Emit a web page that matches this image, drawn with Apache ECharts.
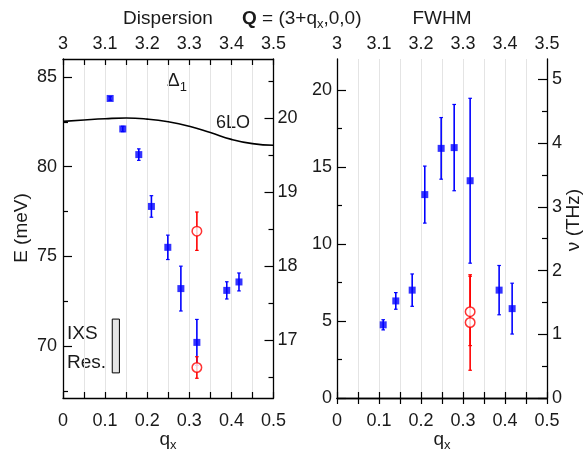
<!DOCTYPE html>
<html><head><meta charset="utf-8">
<script src="https://cdn.jsdelivr.net/npm/echarts@6/dist/echarts.min.js"></script>
<style>html,body{margin:0;padding:0;background:#fff}#c{width:585px;height:451px}</style>
</head><body><div id="c"></div><script>
// ---- data ----
const MEV_PER_THZ = 4.1357;
const qLabels = [0, 0.1, 0.2, 0.3, 0.4, 0.5];
const hLabels = [3, 3.1, 3.2, 3.3, 3.4, 3.5];
const eLabels = [70, 75, 80, 85];
const eMinor = [67.5, 72.5, 77.5, 82.5];
const thzLabelsL = [17, 18, 19, 20];
const thzMinorL = [16.5, 17.5, 18.5, 19.5, 20.5];
const wLabels = [0, 5, 10, 15, 20];
const wMinor = [2.5, 7.5, 12.5, 17.5];
const thzLabelsR = [0, 1, 2, 3, 4, 5];
const thzMinorR = [0.5, 1.5, 2.5, 3.5, 4.5];

const dispQ   = [0.112, 0.142, 0.180, 0.210, 0.249, 0.280, 0.318, 0.389, 0.418];
const dispE   = [83.8, 82.1, 80.67, 77.78, 75.5, 73.2, 70.2, 73.1, 73.57];
const dispErr = [0.1, 0.15, 0.32, 0.6, 0.68, 1.25, 1.28, 0.48, 0.5];
const dispRedQ   = [0.318, 0.318];
const dispRedE   = [76.4, 68.8];
const dispRedErr = [1.07, 0.6];

const loQ = [0, 0.05, 0.1, 0.15, 0.2, 0.25, 0.3, 0.35, 0.4, 0.45, 0.5];
const loE = [82.52, 82.60, 82.67, 82.71, 82.65, 82.50, 82.25, 81.90, 81.52, 81.28, 81.19];

const resQ = [0.117, 0.134];
const resE = [68.5, 71.5];

const fwhmQ   = [0.110, 0.140, 0.179, 0.209, 0.248, 0.279, 0.317, 0.386, 0.417];
const fwhmW   = [4.75, 6.3, 7.0, 13.2, 16.2, 16.25, 14.1, 7.0, 5.8];
const fwhmErr = [0.33, 0.54, 1.05, 1.85, 2.0, 2.8, 5.35, 1.6, 1.65];
const fwhmRedQ  = [0.317, 0.317];
const fwhmRedW  = [5.6, 4.9];
const fwhmRedLo = [3.4, 1.8];
const fwhmRedHi = [8.0, 7.9];

const E_MIN = 67.1, E_MAX = 86.0, W_MIN = 0, W_MAX = 22;

// ---- helpers ----
const FONT = '"Liberation Sans", Arial, Helvetica, sans-serif';
const BLUE = '#0000ff', RED = '#ff0000';
const pairs = (a, b) => a.map((v, i) => [v, b[i]]);
const errRows = (q, lo, hi) => q.map((v, i) => [v, lo[i], hi[i]]);

function errRender(color) {
  return function (params, api) {
    const x = api.value(0), lo = api.value(1), hi = api.value(2);
    const a = api.coord([x, hi]), b = api.coord([x, lo]);
    const cw = 1.8;
    const st = { stroke: color, lineWidth: 1.6 };
    return { type: 'group', children: [
      { type: 'line', shape: { x1: a[0], y1: a[1], x2: b[0], y2: b[1] }, style: st },
      { type: 'line', shape: { x1: a[0] - cw, y1: a[1], x2: a[0] + cw, y2: a[1] }, style: { stroke: color, lineWidth: 1.2 } },
      { type: 'line', shape: { x1: b[0] - cw, y1: b[1], x2: b[0] + cw, y2: b[1] }, style: { stroke: color, lineWidth: 1.2 } }
    ]};
  };
}

const axisLine = { show: true, lineStyle: { color: '#000', width: 1.3 } };
const labelStyle = { color: '#1a1a1a', fontFamily: FONT, fontSize: 18 };

function xBottom(grid) {
  return { type: 'value', gridIndex: grid, position: 'bottom', min: 0, max: 0.5, interval: 0.05,
    axisLine, axisTick: { show: true, inside: true, length: 6, lineStyle: { color: '#000', width: 1.2 } },
    axisLabel: Object.assign({ customValues: qLabels, margin: 14 }, labelStyle),
    splitLine: { show: true, lineStyle: { color: '#e4e4e4', width: 1 } } };
}
function xTop(grid) {
  return { type: 'value', gridIndex: grid, position: 'top', min: 3, max: 3.5, interval: 0.05,
    axisLine, axisTick: { show: true, inside: true, length: 6, lineStyle: { color: '#000', width: 1.2 } },
    axisLabel: Object.assign({ customValues: hLabels, margin: 6 }, labelStyle),
    splitLine: { show: false } };
}
function yMajor(grid, pos, min, max, vals, margin) {
  return { type: 'value', gridIndex: grid, position: pos, min, max,
    axisLine, axisTick: { show: true, inside: true, length: 9, customValues: vals, lineStyle: { color: '#000', width: 1.2 } },
    axisLabel: Object.assign({ customValues: vals, margin }, labelStyle),
    splitLine: { show: false } };
}
function yMinor(grid, pos, min, max, vals) {
  return { type: 'value', gridIndex: grid, position: pos, min, max,
    axisLine: { show: false }, axisTick: { show: true, inside: true, length: 5, customValues: vals, lineStyle: { color: '#000', width: 1.2 } },
    axisLabel: { show: false }, splitLine: { show: false } };
}
function xHidden(grid) {
  return { type: 'value', gridIndex: grid, min: 0, max: 0.5, show: false };
}

const gL = { left: 63, top: 59, width: 210.5, height: 339 };
const gR = { left: 337, top: 59, width: 210, height: 339 };

const option = {
  animation: false,
  backgroundColor: '#fff',
  textStyle: { fontFamily: FONT },
  grid: [gL, Object.assign({}, gL), gR, Object.assign({}, gR)],
  xAxis: [xBottom(0), xTop(0), xBottom(2), xTop(2), xHidden(1), xHidden(3)],
  yAxis: [
    yMajor(0, 'left', E_MIN, E_MAX, eLabels, 6),
    yMajor(0, 'right', E_MIN / MEV_PER_THZ, E_MAX / MEV_PER_THZ, thzLabelsL, 4),
    yMinor(1, 'left', E_MIN, E_MAX, eMinor),
    yMinor(1, 'right', E_MIN / MEV_PER_THZ, E_MAX / MEV_PER_THZ, thzMinorL),
    yMajor(2, 'left', W_MIN, W_MAX, wLabels, 5),
    yMajor(2, 'right', W_MIN / MEV_PER_THZ, W_MAX / MEV_PER_THZ, thzLabelsR, 5),
    yMinor(3, 'left', W_MIN, W_MAX, wMinor),
    yMinor(3, 'right', W_MIN / MEV_PER_THZ, W_MAX / MEV_PER_THZ, thzMinorR)
  ],
  series: [
    { type: 'line', xAxisIndex: 0, yAxisIndex: 0, data: pairs(loQ, loE), smooth: true, showSymbol: false,
      lineStyle: { color: '#000', width: 1.6 }, silent: true,
      markArea: { silent: true, itemStyle: { color: '#e6e6e6', borderColor: '#000', borderWidth: 1 },
        data: [[{ coord: [resQ[0], resE[1]] }, { coord: [resQ[1], resE[0]] }]] } },
    { type: 'custom', xAxisIndex: 0, yAxisIndex: 0, renderItem: errRender(BLUE), encode: { x: 0, y: [1, 2] },
      data: errRows(dispQ, dispE.map((v, i) => v - dispErr[i]), dispE.map((v, i) => v + dispErr[i])), z: 3 },
    { type: 'custom', xAxisIndex: 0, yAxisIndex: 0, renderItem: errRender(RED), encode: { x: 0, y: [1, 2] },
      data: errRows(dispRedQ, dispRedE.map((v, i) => v - dispRedErr[i]), dispRedE.map((v, i) => v + dispRedErr[i])), z: 3 },
    { type: 'scatter', xAxisIndex: 0, yAxisIndex: 0, data: pairs(dispQ, dispE), symbol: 'rect', symbolSize: 7,
      itemStyle: { color: BLUE }, z: 4 },
    { type: 'scatter', xAxisIndex: 0, yAxisIndex: 0, data: pairs(dispRedQ, dispRedE), symbol: 'circle', symbolSize: 9.5,
      itemStyle: { color: '#fff', borderColor: RED, borderWidth: 1.5 }, z: 4 },

    { type: 'custom', xAxisIndex: 2, yAxisIndex: 4, renderItem: errRender(BLUE), encode: { x: 0, y: [1, 2] },
      data: errRows(fwhmQ, fwhmW.map((v, i) => v - fwhmErr[i]), fwhmW.map((v, i) => v + fwhmErr[i])), z: 3 },
    { type: 'custom', xAxisIndex: 2, yAxisIndex: 4, renderItem: errRender(RED), encode: { x: 0, y: [1, 2] },
      data: errRows(fwhmRedQ, fwhmRedLo, fwhmRedHi), z: 3 },
    { type: 'scatter', xAxisIndex: 2, yAxisIndex: 4, data: pairs(fwhmQ, fwhmW), symbol: 'rect', symbolSize: 7,
      itemStyle: { color: BLUE }, z: 4 },
    { type: 'scatter', xAxisIndex: 2, yAxisIndex: 4, data: pairs(fwhmRedQ, fwhmRedW), symbol: 'circle', symbolSize: 9.5,
      itemStyle: { color: '#fff', borderColor: RED, borderWidth: 1.5 }, z: 4 }
  ],
  graphic: [
    { type: 'text', x: 168, y: 19, style: { text: 'Dispersion', fill: '#1a1a1a', font: '19px ' + FONT, align: 'center', verticalAlign: 'middle' } },
    { type: 'text', x: 242, y: 19, style: { text: '{b|Q} = (3+q{s|x},0,0)', fill: '#1a1a1a', font: '19px ' + FONT, align: 'left', verticalAlign: 'middle',
        rich: { b: { fontWeight: 'bold', fontSize: 19, fontFamily: FONT, fill: '#1a1a1a' }, s: { fontSize: 13, fontFamily: FONT, verticalAlign: 'bottom', padding: [10, 0, 0, 0], fill: '#1a1a1a' } } } },
    { type: 'text', x: 442, y: 19, style: { text: 'FWHM', fill: '#1a1a1a', font: '19px ' + FONT, align: 'center', verticalAlign: 'middle' } },
    { type: 'text', x: 22, y: 228, rotation: Math.PI / 2, style: { text: 'E (meV)', fill: '#1a1a1a', font: '19px ' + FONT, align: 'center', verticalAlign: 'middle' } },
    { type: 'text', x: 574, y: 220, rotation: Math.PI / 2, style: { text: 'ν (THz)', fill: '#1a1a1a', font: '19px ' + FONT, align: 'center', verticalAlign: 'middle' } },
    { type: 'text', x: 168, y: 440, style: { text: 'q{s|x}', fill: '#1a1a1a', font: '19px ' + FONT, align: 'center', verticalAlign: 'middle',
        rich: { s: { fontSize: 13, fontFamily: FONT, padding: [10, 0, 0, 0], fill: '#1a1a1a' } } } },
    { type: 'text', x: 442, y: 440, style: { text: 'q{s|x}', fill: '#1a1a1a', font: '19px ' + FONT, align: 'center', verticalAlign: 'middle',
        rich: { s: { fontSize: 13, fontFamily: FONT, padding: [10, 0, 0, 0], fill: '#1a1a1a' } } } },
    { type: 'text', x: 167, y: 81, style: { text: 'Δ{s|1}', fill: '#1a1a1a', font: '19px ' + FONT, align: 'left', verticalAlign: 'middle',
        rich: { s: { fontSize: 13, fontFamily: FONT, padding: [12, 0, 0, 0], fill: '#1a1a1a' } } } },
    { type: 'text', x: 216, y: 123, style: { text: '6LO', fill: '#1a1a1a', font: '18px ' + FONT, align: 'left', verticalAlign: 'middle' } },
    { type: 'text', x: 67, y: 334, style: { text: 'IXS', fill: '#1a1a1a', font: '19px ' + FONT, align: 'left', verticalAlign: 'middle' } },
    { type: 'text', x: 67, y: 363, style: { text: 'Res.', fill: '#1a1a1a', font: '19px ' + FONT, align: 'left', verticalAlign: 'middle' } }
  ]
};
const chart = echarts.init(document.getElementById('c'), null, { renderer: 'canvas' });
chart.setOption(option);
</script></body></html>
